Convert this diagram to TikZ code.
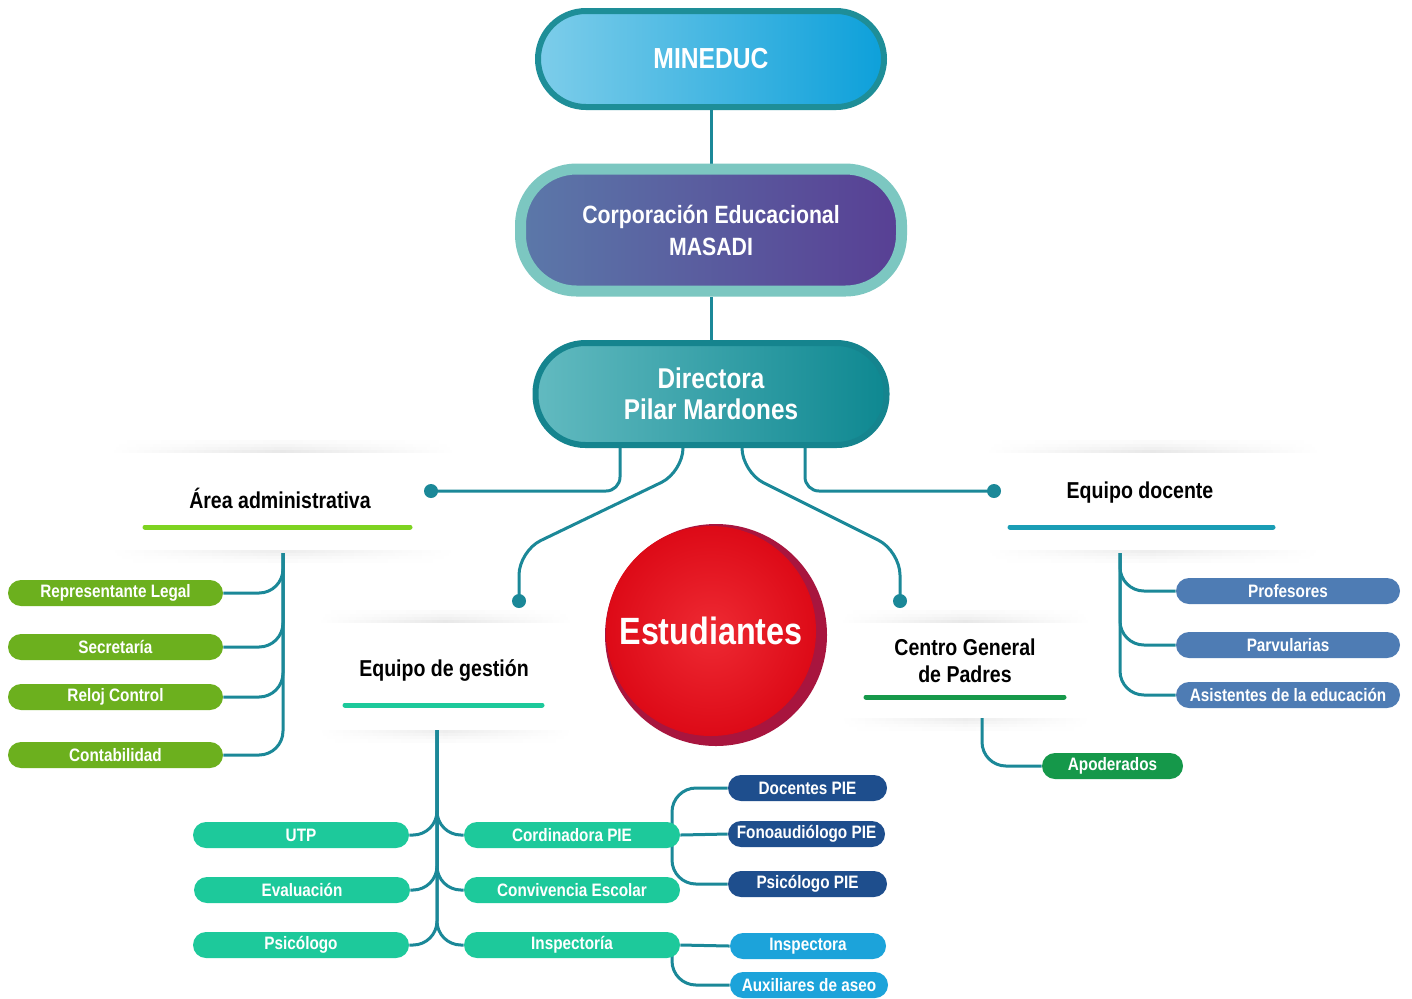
\documentclass[tikz,border=0pt]{standalone}
\usepackage{fontspec}
\setmainfont{Liberation Sans}[FakeStretch=0.85]
\usetikzlibrary{calc}
\definecolor{mineL}{HTML}{7DCDEA}
\definecolor{mineR}{HTML}{0DA0DA}
\definecolor{mineB}{HTML}{1E8E98}
\definecolor{corpL}{HTML}{5B78A9}
\definecolor{corpR}{HTML}{583F94}
\definecolor{corpB}{HTML}{7CC7C1}
\definecolor{dirL}{HTML}{62BAC0}
\definecolor{dirR}{HTML}{0E8891}
\definecolor{dirB}{HTML}{15848E}
\definecolor{connc}{HTML}{1B8898}
\definecolor{gA}{HTML}{6CB01E}
\definecolor{ulA}{HTML}{7ED321}
\definecolor{mint}{HTML}{1DC99B}
\definecolor{navy}{HTML}{1E4E8D}
\definecolor{lblue}{HTML}{1CA3DA}
\definecolor{steel}{HTML}{4E7CB4}
\definecolor{ulD}{HTML}{1A9DB5}
\definecolor{gC}{HTML}{15984A}
\definecolor{ulC}{HTML}{16994A}
\definecolor{estA}{HTML}{EE2A33}
\definecolor{estB}{HTML}{DD0A17}
\definecolor{estD}{HTML}{A8153E}
\pgfdeclarelayer{shadowlayer}
\pgfdeclarelayer{linelayer}
\pgfsetlayers{shadowlayer,linelayer,main}
\newcommand\shstrip[4]{%
  \fill[left color=white, right color=white, middle color=black!#4] (#1,#2) rectangle (#3,#2+3);}
\newcommand\cardsh[4]{%
  \shstrip{#1}{#2-3}{#3}{9}\shstrip{#1}{#2-6}{#3}{6}\shstrip{#1}{#2-9}{#3}{4}\shstrip{#1}{#2-12}{#3}{2}%
  \shstrip{#1}{#4}{#3}{7}\shstrip{#1}{#4+3}{#3}{5}\shstrip{#1}{#4+6}{#3}{3}\shstrip{#1}{#4+9}{#3}{1.5}%
}
\begin{document}
\begin{tikzpicture}[x=0.5pt,y=-0.5pt,
  pill/.style={rectangle, rounded corners=6.5pt, minimum height=13pt, inner sep=0pt,
     text=white, font=\fontsize{9}{10}\selectfont\bfseries},
  head/.style={font=\fontsize{11.5}{13.5}\selectfont\bfseries, text=black, align=center},
  bigbox/.style={rectangle, text=white, align=center},
  conn/.style={draw=connc, line width=1.5pt},
  rc/.style={rounded corners=12pt},
  uline/.style={line width=2.5pt, line cap=round}]
\useasboundingbox (0,0) rectangle (1412,998);
\begin{pgfonlayer}{shadowlayer}
  \fill[white] (0,0) rectangle (1412,998);
  \cardsh{110}{452}{455}{550}
  \cardsh{985}{452}{1320}{550}
  \cardsh{318}{622}{572}{730}
  \cardsh{840}{622}{1090}{718}
\end{pgfonlayer}

% top boxes
\node[bigbox, minimum width=173pt, minimum height=48pt, rounded corners=24pt,
  draw=mineB, line width=3pt, left color=mineL, right color=mineR,
  font=\fontsize{14.5}{16}\selectfont\bfseries] (mineduc) at (711,59) {MINEDUC};
\node[bigbox, minimum width=190.5pt, minimum height=61pt, rounded corners=28pt,
  draw=corpB, line width=5.5pt, left color=corpL, right color=corpR,
  font=\fontsize{12.5}{16}\selectfont\bfseries] (corp) at (711,230) {Corporación Educacional\\MASADI};
\node[bigbox, minimum width=175.5pt, minimum height=51pt, rounded corners=25pt,
  draw=dirB, line width=3pt, left color=dirL, right color=dirR,
  font=\fontsize{14.3}{15.5}\selectfont\bfseries] (dir) at (711,394) {Directora\\Pilar Mardones};

% Estudiantes
\fill[estD] (716,635) circle (55.5pt);
\node[circle, inner sep=0pt, minimum size=105pt, inner color=estA, outer color=estB,
  text=white, font=\fontsize{19}{20}\selectfont\bfseries] (est) at (711,631) {Estudiantes};

% headings
\node[head] (admT) at (280,498) {Área administrativa};
\draw[uline, ulA] (145,527) -- (410,527);
\node[head] (docT) at (1140,493) {Equipo docente};
\draw[uline, ulD] (1010,527) -- (1273,527);
\node[head] (gesT) at (444,670) {Equipo de gestión};
\draw[uline, mint] (345,705) -- (542,705);
\node[head] (cenT) at (965,661) {Centro General\\de Padres};
\draw[uline, ulC] (866,697) -- (1064,697);

% admin pills
\node[pill, fill=gA, minimum width=107.5pt] (rl) at (115.5,593) {Representante Legal};
\node[pill, fill=gA, minimum width=107.5pt] (sec) at (115.5,647) {Secretaría};
\node[pill, fill=gA, minimum width=107.5pt] (rel) at (115.5,697) {Reloj Control};
\node[pill, fill=gA, minimum width=107.5pt] (cont) at (115.5,755) {Contabilidad};

% gestion pills
\node[pill, fill=mint, minimum width=108pt] (utp) at (301,835) {UTP};
\node[pill, fill=mint, minimum width=108pt] (eva) at (302,890) {Evaluación};
\node[pill, fill=mint, minimum width=108pt] (psi) at (301,945) {Psicólogo};
\node[pill, fill=mint, minimum width=108pt] (cord) at (572,835) {Cordinadora PIE};
\node[pill, fill=mint, minimum width=108pt] (conv) at (572,890) {Convivencia Escolar};
\node[pill, fill=mint, minimum width=108pt] (insp) at (572,945) {Inspectoría};

% PIE and inspectoria
\node[pill, fill=navy, minimum width=79.5pt] (docp) at (807.5,788) {Docentes PIE};
\node[pill, fill=navy, minimum width=78.5pt] (fono) at (806.5,834) {Fonoaudiólogo PIE};
\node[pill, fill=navy, minimum width=79.5pt] (psip) at (807.5,884) {Psicólogo PIE};
\node[pill, fill=lblue, minimum width=78pt] (inspa) at (808,946) {Inspectora};
\node[pill, fill=lblue, minimum width=79pt] (aux) at (809,985) {Auxiliares de aseo};

% docente pills
\node[pill, fill=steel, minimum width=112pt] (prof) at (1288,591) {Profesores};
\node[pill, fill=steel, minimum width=112pt] (parv) at (1288,645) {Parvularias};
\node[pill, fill=steel, minimum width=112pt] (asis) at (1288,695) {Asistentes de la educación};

% centro
\node[pill, fill=gC, minimum width=70.5pt] (apod) at (1112.5,766) {Apoderados};

% coordinates
\coordinate (dA) at (431,491);
\coordinate (dG) at (519,601);
\coordinate (dC) at (900,601);
\coordinate (dD) at (994,491);
\coordinate (admR) at (283,553);
\coordinate (gesR) at (437,730);
\coordinate (docR) at (1120,553);
\coordinate (cenR) at (982,718);
\coordinate (J1) at (672,835);
\coordinate (J2) at (672,946);

\begin{pgfonlayer}{linelayer}
  \draw[conn] (mineduc.south) -- (corp.north);
  \draw[conn] (corp.south) -- (dir.north);
  \draw[conn, rounded corners=7pt] ([xshift=-45.5pt]dir.south) |- (dA);
  \draw[conn, rounded corners=7pt] ([xshift=47pt]dir.south) |- (dD);
  \draw[conn, rounded corners=12pt] ([xshift=-14pt]dir.south) -- ++(0,24) -- ($(dG)+(0,-50)$) -- (dG);
  \draw[conn, rounded corners=12pt] ([xshift=15.5pt]dir.south) -- ++(0,24) -- ($(dC)+(0,-50)$) -- (dC);
  \fill[connc] (dA) circle (3.5pt);
  \fill[connc] (dG) circle (3.5pt);
  \fill[connc] (dC) circle (3.5pt);
  \fill[connc] (dD) circle (3.5pt);
  % admin tree
  \draw[conn, rc] (admR) |- (rl.east);
  \draw[conn, rc] (admR) |- (sec.east);
  \draw[conn, rc] (admR) |- (rel.east);
  \draw[conn, rc] (admR) |- (cont.east);
  % gestion tree
  \draw[conn, rc] (gesR) |- (utp.east);
  \draw[conn, rc] (gesR) |- (eva.east);
  \draw[conn, rc] (gesR) |- (psi.east);
  \draw[conn, rc] (gesR) |- (cord.west);
  \draw[conn, rc] (gesR) |- (conv.west);
  \draw[conn, rc] (gesR) |- (insp.west);
  % PIE
  \draw[conn] (cord.east) -- (fono.west);
  \draw[conn, rc] (J1) |- (docp.west);
  \draw[conn, rc] (J1) |- (psip.west);
  \draw[conn] (insp.east) -- (inspa.west);
  \draw[conn, rc] (J2) |- (aux.west);
  % docente tree
  \draw[conn, rc] (docR) |- (prof.west);
  \draw[conn, rc] (docR) |- (parv.west);
  \draw[conn, rc] (docR) |- (asis.west);
  % centro
  \draw[conn, rc] (cenR) |- (apod.west);
\end{pgfonlayer}
\end{tikzpicture}
\end{document}
